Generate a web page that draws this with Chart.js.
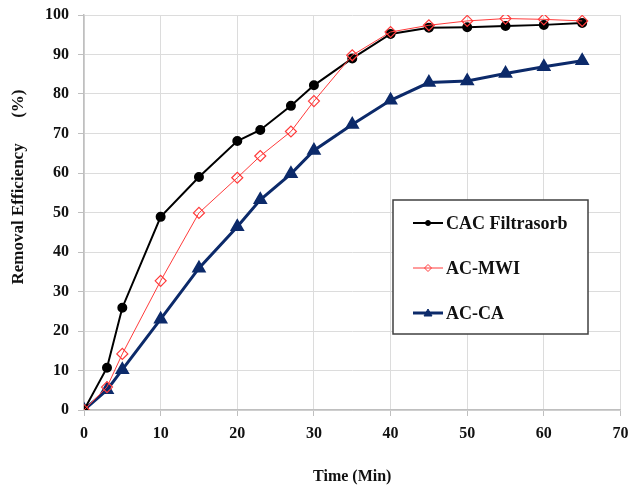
<!DOCTYPE html>
<html>
<head>
<meta charset="utf-8">
<script src="https://cdn.jsdelivr.net/npm/chart.js@4"></script>
<style>
  html, body { margin: 0; padding: 0; background: #fff; }
  #wrap { width: 629px; height: 486px; }
</style>
</head>
<body>
<div id="wrap"><canvas id="chart" width="629" height="486"></canvas></div>
<script>
const times = [0, 3, 5, 10, 15, 20, 23, 27, 30, 35, 40, 45, 50, 55, 60, 65];
const cacFiltrasorb = [0, 10.7, 25.9, 48.9, 59, 68.1, 70.9, 77, 82.2, 89, 95.2, 96.8, 96.9, 97.2, 97.5, 98];
const acMwi = [0, 5.8, 14.2, 32.7, 49.9, 58.8, 64.3, 70.5, 78.2, 89.8, 95.7, 97.4, 98.5, 99.1, 98.9, 98.5];
const acCa = [0, 5.1, 10.2, 23, 35.9, 46.4, 53.2, 59.8, 65.7, 72.3, 78.4, 82.9, 83.3, 85.2, 86.9, 88.4];
const seriesNames = ["CAC Filtrasorb", "AC-MWI", "AC-CA"];
const xTicks = [0, 10, 20, 30, 40, 50, 60, 70];
const yTicks = [0, 10, 20, 30, 40, 50, 60, 70, 80, 90, 100];

const font = "'Liberation Serif', 'Times New Roman', serif";

const pts = (ys) => times.map((t, i) => ({ x: t, y: ys[i] }));

// legend drawn inside the plot, as a boxed list
const boxLegend = {
  id: "boxLegend",
  afterDraw(chart) {
    const ctx = chart.ctx;
    const x0 = 393, y0 = 200, w = 195, h = 134;
    ctx.save();
    ctx.fillStyle = "#fff";
    ctx.fillRect(x0, y0, w, h);
    ctx.strokeStyle = "#404040";
    ctx.lineWidth = 1.5;
    ctx.strokeRect(x0, y0, w, h);
    const rows = [223, 268, 313];
    chart.data.datasets.forEach((ds, i) => {
      const y = rows[i];
      ctx.strokeStyle = ds.borderColor;
      ctx.lineWidth = ds.borderWidth;
      ctx.beginPath();
      ctx.moveTo(413, y);
      ctx.lineTo(443, y);
      ctx.stroke();
      const cx = 428;
      ctx.lineWidth = 1;
      ctx.fillStyle = ds.pointBackgroundColor;
      ctx.strokeStyle = ds.pointBorderColor;
      ctx.beginPath();
      if (ds.pointStyle === "circle") {
        ctx.arc(cx, y, 2.5, 0, Math.PI * 2);
      } else if (ds.pointStyle === "rectRot") {
        ctx.moveTo(cx, y - 3.5); ctx.lineTo(cx + 3.5, y); ctx.lineTo(cx, y + 3.5); ctx.lineTo(cx - 3.5, y); ctx.closePath();
      } else {
        ctx.moveTo(cx, y - 4); ctx.lineTo(cx + 4, y + 3); ctx.lineTo(cx - 4, y + 3); ctx.closePath();
      }
      ctx.fill();
      ctx.stroke();
      ctx.fillStyle = "#111";
      ctx.font = "bold 18px " + font;
      ctx.textBaseline = "middle";
      ctx.textAlign = "left";
      ctx.fillText(ds.label, 446, y + 1);
    });
    ctx.restore();
  }
};

new Chart(document.getElementById("chart"), {
  type: "scatter",
  data: {
    datasets: [
      {
        label: seriesNames[0],
        data: pts(cacFiltrasorb),
        showLine: true,
        borderColor: "#000",
        borderWidth: 2,
        pointStyle: "circle",
        pointRadius: 4,
        pointBackgroundColor: "#000",
        pointBorderColor: "#000",
        order: 2,
      },
      {
        label: seriesNames[1],
        data: pts(acMwi),
        showLine: true,
        borderColor: "#ff3b3b",
        borderWidth: 1,
        pointStyle: "rectRot",
        pointRadius: 5.5,
        pointBorderWidth: 1.2,
        pointBackgroundColor: "rgba(255,255,255,0)",
        pointBorderColor: "#ff3b3b",
        order: 1,
      },
      {
        label: seriesNames[2],
        data: pts(acCa),
        showLine: true,
        borderColor: "#0c2a6a",
        borderWidth: 3,
        pointStyle: "triangle",
        pointRadius: 5.5,
        pointBackgroundColor: "#0c2a6a",
        pointBorderColor: "#0c2a6a",
        order: 3,
      },
    ],
  },
  options: {
    responsive: false,
    animation: false,
    layout: { padding: { top: 15, right: 8, left: 0, bottom: 0 } },
    plugins: {
      legend: { display: false },
      tooltip: { enabled: false },
    },
    scales: {
      x: {
        type: "linear",
        min: 0,
        max: 70,
        afterBuildTicks: (s) => { s.ticks = xTicks.map((v) => ({ value: v })); },
        afterFit: (s) => { s.height = 76; s.paddingLeft = 0; s.paddingRight = 0; },
        grid: { color: "#dcdcdc", tickLength: 6, tickColor: "#bfbfbf" },
        border: { color: "#bfbfbf", width: 1.5 },
        ticks: { color: "#111", padding: 8, font: { family: font, size: 16, weight: "bold" } },
        title: {
          display: true,
          text: "Time (Min)",
          color: "#111",
          padding: { top: 20, bottom: 0 },
          font: { family: font, size: 16, weight: "bold" },
        },
      },
      y: {
        min: 0,
        max: 100,
        afterBuildTicks: (s) => { s.ticks = yTicks.map((v) => ({ value: v })); },
        afterFit: (s) => { s.width = 84; s.paddingTop = 0; s.paddingBottom = 0; },
        grid: { color: "#dcdcdc", tickLength: 6, tickColor: "#bfbfbf" },
        border: { color: "#bfbfbf", width: 1.5 },
        ticks: { color: "#111", padding: 9, font: { family: font, size: 16, weight: "bold" } },
        title: {
          display: true,
          text: "            Removal Efficiency      (%)",
          color: "#111",
          padding: { top: 8, bottom: 8 },
          font: { family: font, size: 17, weight: "bold" },
        },
      },
    },
  },
  plugins: [boxLegend],
});
</script>
</body>
</html>
